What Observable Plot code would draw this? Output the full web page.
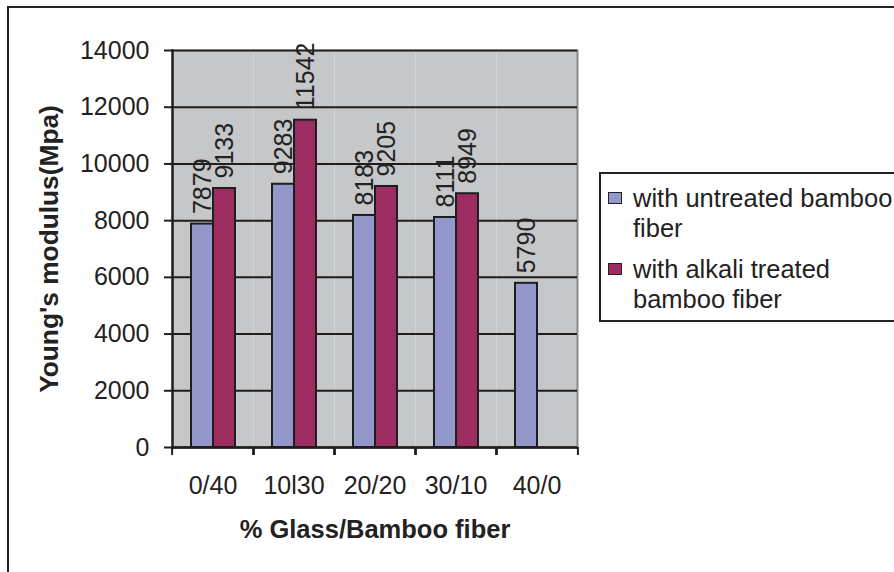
<!DOCTYPE html>
<html><head><meta charset="utf-8">
<script src="https://cdn.jsdelivr.net/npm/d3@7"></script>
<script src="https://cdn.jsdelivr.net/npm/@observablehq/plot@0.6"></script>
<style>
body{margin:0;background:#fff;}
#wrap{position:relative;width:894px;height:572px;overflow:hidden;font-family:"Liberation Sans",Arial,sans-serif;color:#222;background:#fff;}
#wrap svg{position:absolute;left:0;top:0;}
#border{position:absolute;left:7px;top:6px;width:1000px;height:1000px;border:2px solid #222;}
#legend{position:absolute;left:599px;top:172px;width:400px;height:146px;border:2px solid #222;background:#fff;}
.sw{position:absolute;left:7px;width:12px;height:10px;border:1.5px solid #222;}
.lab{position:absolute;left:32px;width:264px;font-size:25.5px;line-height:30px;white-space:normal;}
</style></head>
<body>
<div id="wrap"><div id="border"></div></div>
<script>
const categories = ["0/40", "10l30", "20/20", "30/10", "40/0"];
const seriesNames = ["with untreated bamboo fiber", "with alkali treated bamboo fiber"];
const untreated = [7879, 9283, 8183, 8111, 5790];
const treated = [9133, 11542, 9205, 8949, null];
const yTicks = [0, 2000, 4000, 6000, 8000, 10000, 12000, 14000];
const colors = ["#9497ca", "#9d2d60"];

const rows = [];
categories.forEach((c, i) => {
  rows.push({cat: c, series: seriesNames[0], value: untreated[i]});
  if (treated[i] != null) rows.push({cat: c, series: seriesNames[1], value: treated[i]});
});

const W = 894, H = 572, mL = 170, mR = 315;
const half = (W - mL - mR) / categories.length / 2;

const chart = Plot.plot({
  width: W, height: H,
  marginLeft: mL, marginRight: mR, marginTop: 50, marginBottom: 125,
  style: {fontFamily: '"Liberation Sans", Arial, sans-serif', fontSize: "25px", color: "#222", background: "none", overflow: "visible"},
  fx: {domain: categories, padding: 0},
  x: {domain: seriesNames, paddingInner: 0, paddingOuter: 0.8, axis: null},
  y: {domain: [0, 14000]},
  color: {domain: seriesNames, range: colors},
  marks: [
    Plot.frame({fill: "#c6c7c9"}),
    Plot.frame({anchor: "top", stroke: "#9a9a9a", strokeWidth: 1.5}),
    Plot.frame({anchor: "right", facetAnchor: "right", stroke: "#8a8a8a", strokeWidth: 2}),
    Plot.ruleY(yTicks, {stroke: "#1e1e1e", strokeWidth: 2}),
    Plot.barY(rows, {fx: "cat", x: "series", y: "value", fill: "series", stroke: "#1e1e1e", strokeWidth: 2}),
    Plot.text(rows, {fx: "cat", x: "series", y: "value", text: d => String(d.value), rotate: -90, textAnchor: "start", dy: -10, fill: "#222", fontSize: 25}),
    Plot.ruleY([0], {stroke: "#1e1e1e", strokeWidth: 2.5}),
    Plot.frame({anchor: "left", facetAnchor: "left", stroke: "#1e1e1e", strokeWidth: 2.5}),
    Plot.axisY({ticks: yTicks, tickSize: 8, tickPadding: 15, label: null, stroke: "#1e1e1e", strokeWidth: 2, tickFormat: d => String(d), fill: "#222", fontSize: 25}),
    Plot.axisY({ticks: [], label: "Young's modulus(Mpa)", labelAnchor: "center", labelArrow: "none", labelOffset: 133, fontWeight: "bold", fontSize: 26.3, fill: "#222"}),
    Plot.axisFx({anchor: "bottom", tickSize: 0, tickPadding: 29, label: null, fill: "#222", fontSize: 25}),
    Plot.axisFx({anchor: "bottom", fill: "none", tickSize: 8, dx: -half, label: null, stroke: "#1e1e1e", strokeWidth: 2}),
    Plot.axisFx({anchor: "bottom", fill: "none", tickSize: 8, dx: half, label: null, stroke: "#1e1e1e", strokeWidth: 2}),
    Plot.axisFx({anchor: "bottom", ticks: [], label: "% Glass/Bamboo fiber", labelAnchor: "center", labelArrow: "none", labelOffset: 90, fontWeight: "bold", fontSize: 25.5, fill: "#222"})
  ]
});

const wrap = document.getElementById("wrap");
wrap.insertBefore(chart, wrap.firstChild);

const legend = document.createElement("div");
legend.id = "legend";
const swTops = [18, 89], labTops = [9, 80];
seriesNames.forEach((s, i) => {
  const sw = document.createElement("div");
  sw.className = "sw";
  sw.style.top = swTops[i] + "px";
  sw.style.background = colors[i];
  const lab = document.createElement("div");
  lab.className = "lab";
  lab.style.top = labTops[i] + "px";
  lab.textContent = s;
  legend.appendChild(sw);
  legend.appendChild(lab);
});
wrap.appendChild(legend);
</script>
</body></html>
